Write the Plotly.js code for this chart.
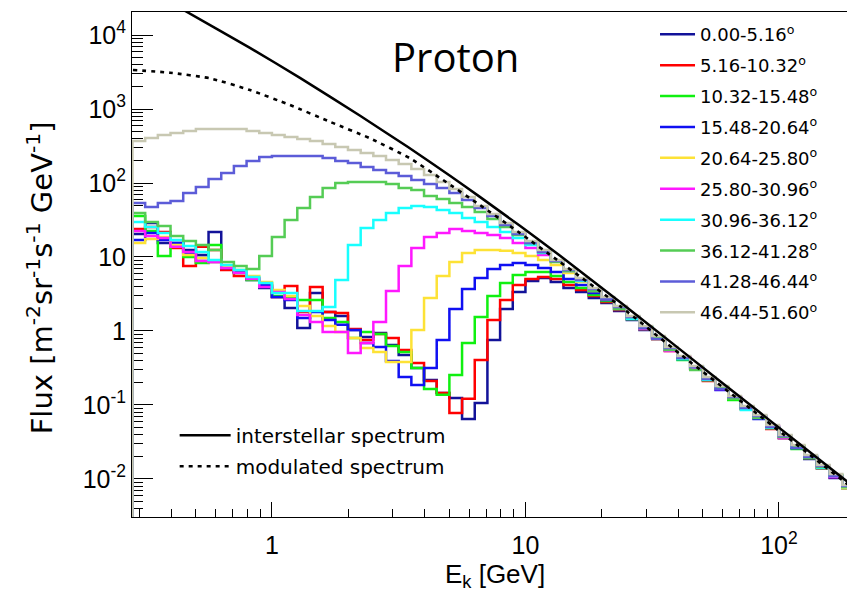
<!DOCTYPE html>
<html><head><meta charset="utf-8">
<script src="https://cdn.plot.ly/plotly-3.0.1.min.js"></script>
<style>html,body{margin:0;padding:0;overflow:hidden;background:#fff}#chart{width:870px;height:591px}</style>
</head><body><div id="chart"></div><script>
// Bin edges of the log-spaced histograms [GeV]
const binEdges = [0.2818,0.3162,0.3548,0.3981,0.4467,0.5012,0.5623,0.6310,0.7079,0.7943,0.8913,1.000,1.122,1.259,1.413,1.585,1.778,1.995,2.239,2.512,2.818,3.162,3.548,3.981,4.467,5.012,5.623,6.310,7.079,7.943,8.913,10.00,11.22,12.59,14.13,15.85,17.78,19.95,22.39,25.12,28.18,31.62,35.48,39.81,44.67,50.12,56.23,63.10,70.79,79.43,89.13,100.0,112.2,125.9,141.3,158.5,177.8,199.5];

const seriesNames = ['0.00-5.16<sup>o</sup>','5.16-10.32<sup>o</sup>','10.32-15.48<sup>o</sup>','15.48-20.64<sup>o</sup>','20.64-25.80<sup>o</sup>','25.80-30.96<sup>o</sup>','30.96-36.12<sup>o</sup>','36.12-41.28<sup>o</sup>','41.28-46.44<sup>o</sup>','46.44-51.60<sup>o</sup>'];
const seriesColors = ['#121299','#ff0000','#10f010','#1010f2','#fde236','#ff18ff','#18ffff','#55cc55','#5c5cd8','#c8c8b2'];

// Flux per bin [m^-2 sr^-1 s^-1 GeV^-1]
const flux_00_05 = [20.5,28.8,15.5,15.5,12.4,10.6,21.8,7.11,6.27,4.89,3.81,2.88,2.05,1.10,3.26,1.81,1.59,1.03,0.831,0.941,0.647,0.474,0.316,0.218,0.145,0.124,0.0647,0.106,0.757,1.98,3.37,4.74,5.20,4.59,3.81,3.37,2.79,2.39,1.86,1.41,1.03,0.781,0.554,0.418,0.307,0.218,0.165,0.121,0.0883,0.0668,0.0489,0.0358,0.0262,0.0186,0.0141,0.0103,0.00757];
const flux_05_10 = [23.9,25.4,21.8,13.2,7.57,13.7,12.4,6.68,5.54,5.04,4.06,2.88,4.06,1.81,3.93,1.81,1.75,1.06,0.757,0.912,0.805,0.554,0.369,0.211,0.145,0.0781,0.121,0.406,1.41,2.62,4.18,5.04,5.37,5.04,4.18,3.58,2.97,2.47,1.92,1.45,1.06,0.781,0.537,0.432,0.307,0.211,0.165,0.124,0.0883,0.0668,0.0474,0.0358,0.0271,0.0192,0.0137,0.0106,0.00757];
const flux_10_15 = [35.8,22.5,10.3,15.0,10.0,8.31,14.5,7.33,6.08,4.89,4.45,2.97,2.79,2.62,2.62,1.50,1.32,0.805,0.971,0.912,0.627,0.520,0.316,0.165,0.137,0.254,0.689,1.55,2.97,4.45,5.71,6.27,6.27,5.54,4.59,3.81,3.07,2.54,1.98,1.45,1.06,0.805,0.554,0.406,0.316,0.218,0.170,0.117,0.0883,0.0668,0.0489,0.0369,0.0254,0.0192,0.0141,0.0110,0.00757];
const flux_15_20 = [17.0,21.1,17.0,15.5,11.3,9.71,8.57,7.11,6.27,5.20,4.18,2.88,2.62,1.50,1.81,1.41,1.21,1.03,0.689,0.608,0.393,0.239,0.186,0.316,0.757,1.98,3.69,5.20,6.89,7.81,8.31,7.81,7.11,6.27,5.04,4.18,3.26,2.62,1.98,1.50,1.10,0.805,0.571,0.418,0.307,0.225,0.159,0.121,0.0912,0.0647,0.0504,0.0358,0.0262,0.0198,0.0141,0.0106,0.00781];
const flux_20_25 = [15.5,17.5,18.6,14.5,10.6,9.71,8.57,7.57,6.68,5.54,4.59,3.58,2.97,2.18,1.59,1.17,0.971,0.805,0.589,0.520,0.381,0.381,1.03,2.79,5.54,8.57,11.3,12.4,12.4,12.1,11.3,10.3,9.12,7.81,6.08,4.59,3.47,2.71,2.05,1.50,1.10,0.781,0.571,0.432,0.307,0.225,0.175,0.121,0.0883,0.0689,0.0504,0.0358,0.0279,0.0198,0.0141,0.0110,0.00757];
const flux_25_30 = [22.5,19.2,18.1,13.7,11.7,8.83,8.57,7.11,6.08,5.04,3.93,3.37,2.71,1.65,1.32,0.971,0.971,0.504,0.689,1.32,3.47,7.57,13.2,18.6,21.1,23.9,22.5,21.1,19.8,18.1,15.5,13.2,10.6,8.83,6.47,4.89,3.58,2.71,2.11,1.50,1.06,0.805,0.537,0.445,0.316,0.225,0.165,0.128,0.0912,0.0689,0.0520,0.0358,0.0271,0.0198,0.0145,0.0106,0.00805];
const flux_30_36 = [29.7,25.4,21.1,17.0,14.1,11.7,9.12,7.81,6.68,5.37,4.45,3.26,3.26,1.86,1.86,2.11,4.89,14.5,24.7,31.6,39.3,45.9,48.9,47.4,43.2,39.3,33.7,29.7,25.4,21.8,18.1,14.5,11.3,8.83,6.47,4.74,3.58,2.79,2.05,1.45,1.13,0.805,0.571,0.418,0.326,0.218,0.170,0.124,0.0857,0.0689,0.0489,0.0381,0.0271,0.0205,0.0141,0.0110,0.00781];
const flux_36_41 = [39.3,29.7,26.2,19.2,16.5,14.5,12.4,8.57,7.57,6.89,10.3,18.6,31.6,45.9,64.7,85.7,100,103,103,103,97.1,85.7,80.5,66.8,60.8,53.7,47.4,40.6,32.6,25.4,19.8,15.5,11.7,8.57,6.47,5.04,3.47,2.71,1.98,1.55,1.10,0.831,0.554,0.432,0.297,0.232,0.170,0.121,0.0941,0.0668,0.0504,0.0369,0.0279,0.0192,0.0145,0.0113,0.00781];
const flux_41_46 = [53.7,47.4,53.7,57.1,73.3,88.3,113,137,170,198,225,232,232,232,232,218,198,186,165,150,137,124,110,97.1,85.7,73.3,58.9,45.9,35.8,27.1,20.5,15.5,11.7,8.83,6.68,4.89,3.69,2.71,2.11,1.55,1.10,0.781,0.589,0.432,0.326,0.225,0.165,0.128,0.0912,0.0711,0.0504,0.0381,0.0262,0.0198,0.0150,0.0110,0.00805];
const flux_46_52 = [369,406,445,474,504,537,537,537,537,504,474,445,418,393,369,337,307,279,254,232,205,181,155,128,103,83.1,64.7,48.9,38.1,28.8,21.8,16.5,12.4,9.12,6.89,5.20,3.81,2.88,2.18,1.59,1.17,0.857,0.608,0.459,0.337,0.239,0.181,0.132,0.0971,0.0733,0.0537,0.0393,0.0288,0.0211,0.0155,0.0117,0.00831];
const fluxSeries = [flux_00_05,flux_05_10,flux_10_15,flux_15_20,flux_20_25,flux_25_30,flux_30_36,flux_36_41,flux_41_46,flux_46_52];

// Interstellar and modulated spectra
const interstellarE = [0.28,0.462,0.819,1.29,2.22,3.44,5.04,6.61,9.51,13.7,23.6,40.7,84.1,199.5];
const interstellarFlux = [5.07e4,2.05e4,6.71e3,2.64e3,817,306,125,64.9,26.4,10.4,2.47,0.564,0.0789,0.00763];
const modulatedE = [0.283,0.396,0.569,0.819,1.178,1.693,2.435,3.503,4.727,6.614,9.512,13.68,23.6,40.7,84.2,199.4];
const modulatedFlux = [3365,3094,2600,1806,1132,673,402,216,110,50.4,21.1,8.56,2.18,0.489,0.0710,0.00710];

const yTickVals = [0.01,0.1,1,10,100,1000,10000];
const yTickText = ['10<sup>-2</sup>','10<sup>-1</sup>','1','10','10<sup>2</sup>','10<sup>3</sup>','10<sup>4</sup>'];
const yMinor = [0.004,0.005,0.006,0.007,0.008,0.009,0.02,0.03,0.04,0.05,0.06,0.07,0.08,0.09,0.2,0.3,0.4,0.5,0.6,0.7,0.8,0.9,2,3,4,5,6,7,8,9,20,30,40,50,60,70,80,90,200,300,400,500,600,700,800,900,2000,3000,4000,5000,6000,7000,8000,9000,20000];
const xTickVals = [1,10,100];
const xTickText = ['1','10','10<sup>2</sup>'];
const xMinor = [0.3,0.4,0.5,0.6,0.7,0.8,0.9,2,3,4,5,6,7,8,9,20,30,40,50,60,70,80,90,200];

const FONT = 'Liberation Sans, Arial, Helvetica, sans-serif';
const WIDEFONT = 'DejaVu Sans, Verdana, sans-serif';
const floorFlux = 1e-4;

const traces = fluxSeries.map((vals, i) => ({
  type: 'scatter', mode: 'lines',
  x: [binEdges[0]].concat(binEdges),
  y: [floorFlux].concat(vals, [vals[vals.length - 1]]),
  line: {shape: 'hv', color: seriesColors[i], width: 2.5},
  name: seriesNames[i], legend: 'legend', legendgroup: 'g' + i,
  hoverinfo: 'skip'
}));
traces.push({
  type: 'scatter', mode: 'lines', x: interstellarE, y: interstellarFlux,
  line: {color: '#000', width: 2.5, shape: 'spline', smoothing: 0.4},
  name: 'interstellar spectrum', legend: 'legend2', legendgroup: 'b1', hoverinfo: 'skip'
});
traces.push({
  type: 'scatter', mode: 'lines', x: modulatedE, y: modulatedFlux,
  line: {color: '#000', width: 2.6, dash: '4px,5px', shape: 'spline', smoothing: 0.5},
  name: 'modulated spectrum', legend: 'legend2', legendgroup: 'b2', hoverinfo: 'skip'
});

const axisCommon = {
  type: 'log', showgrid: false, zeroline: false,
  showline: true, linecolor: '#000', linewidth: 1, mirror: true,
  ticks: 'inside', tickcolor: '#000', tickwidth: 1, layer: 'below traces',
  tickmode: 'array', tickfont: {family: FONT, size: 25, color: '#000'}
};

const layout = {
  width: 870, height: 591,
  margin: {l: 132, r: 15, t: 12, b: 74},
  paper_bgcolor: '#fff', plot_bgcolor: '#fff',
  xaxis: Object.assign({}, axisCommon, {
    range: [-0.552, 2.300], tickvals: xTickVals, ticktext: xTickText, ticklen: 15,
    ticklabelstandoff: 6,
    minor: {ticks: 'inside', ticklen: 8, tickwidth: 1, tickcolor: '#000', tickmode: 'array', tickvals: xMinor}
  }),
  yaxis: Object.assign({}, axisCommon, {
    range: [-2.514, 4.311], tickvals: yTickVals, ticktext: yTickText, ticklen: 21,
    minor: {ticks: 'inside', ticklen: 11, tickwidth: 1, tickcolor: '#000', tickmode: 'array', tickvals: yMinor}
  }),
  showlegend: true,
  legend: {
    x: 0.7234, y: 0.992, xanchor: 'left', yanchor: 'top',
    bgcolor: 'rgba(0,0,0,0)', borderwidth: 0,
    font: {family: WIDEFONT, size: 18, color: '#000'},
    itemwidth: 35, tracegroupgap: 4.5, traceorder: 'grouped'
  },
  legend2: {
    x: 0.059, y: 0.2006, xanchor: 'left', yanchor: 'top',
    bgcolor: 'rgba(0,0,0,0)', borderwidth: 0,
    font: {family: WIDEFONT, size: 20, color: '#000'},
    itemwidth: 51, tracegroupgap: 2, traceorder: 'grouped'
  },
  annotations: [
    {xref: 'paper', yref: 'paper', x: -0.127, y: 0.473, xanchor: 'center', yanchor: 'middle',
     textangle: -90, showarrow: false,
     text: 'Flux [m<sup>-2</sup>sr<sup>-1</sup>s<sup>-1</sup> GeV<sup>-1</sup>]',
     font: {family: WIDEFONT, size: 29, color: '#000'}},
    {xref: 'paper', yref: 'paper', x: 0.502, y: -0.115, xanchor: 'center', yanchor: 'middle',
     showarrow: false, text: 'E<sub>k</sub> [GeV]',
     font: {family: FONT, size: 26, color: '#000'}},
    {xref: 'paper', yref: 'paper', x: 0.447, y: 0.911, xanchor: 'center', yanchor: 'middle',
     showarrow: false, text: 'Proton',
     font: {family: 'Open Sans, Noto Sans, sans-serif', size: 40, color: '#000'}}
  ]
};

Plotly.newPlot('chart', traces, layout, {staticPlot: true, displayModeBar: false});
</script></body></html>
